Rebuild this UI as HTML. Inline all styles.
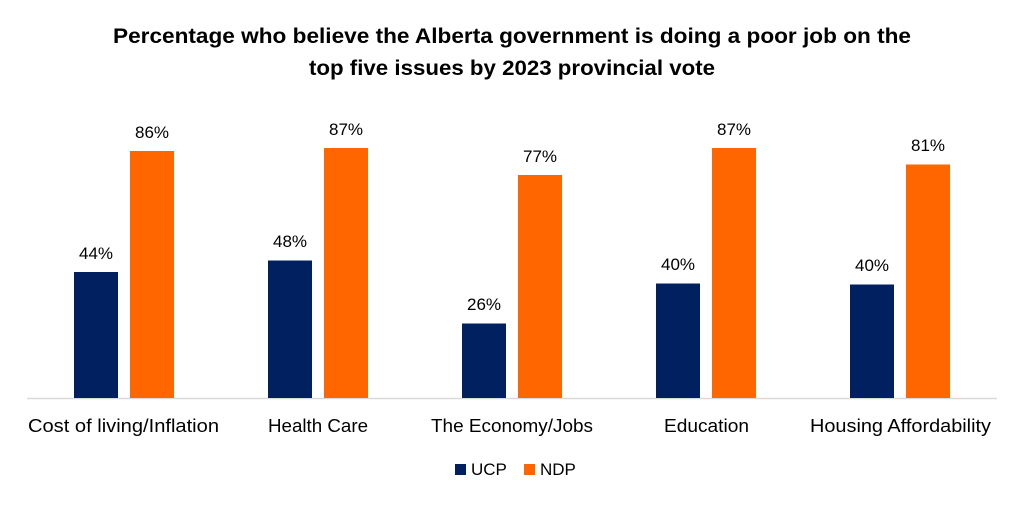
<!DOCTYPE html>
<html><head><meta charset="utf-8"><style>
html,body{margin:0;padding:0;background:#fff;}
svg{display:block;font-family:"Liberation Sans",sans-serif;}
</style></head><body>
<svg width="1024" height="508" viewBox="0 0 1024 508" xmlns="http://www.w3.org/2000/svg">
<rect width="1024" height="508" fill="#fff"/>
<text x="113" y="43" textLength="798" lengthAdjust="spacingAndGlyphs" font-size="21" font-weight="bold" fill="#000">Percentage who believe the Alberta government is doing a poor job on the</text>
<text x="309" y="75" textLength="406" lengthAdjust="spacingAndGlyphs" font-size="21" font-weight="bold" fill="#000">top five issues by 2023 provincial vote</text>
<line x1="27" y1="398.5" x2="997" y2="398.5" stroke="#d9d9d9" stroke-width="1.5"/>
<g fill="#002060">
<rect x="74" y="272" width="44" height="126"/>
<rect x="268" y="260.5" width="44" height="137.5"/>
<rect x="462" y="323.5" width="44" height="74.5"/>
<rect x="656" y="283.5" width="44" height="114.5"/>
<rect x="850" y="284.5" width="44" height="113.5"/>
</g>
<g fill="#FF6600">
<rect x="130" y="151" width="44" height="247"/>
<rect x="324" y="148" width="44" height="250"/>
<rect x="518" y="175" width="44" height="223"/>
<rect x="712" y="148" width="44" height="250"/>
<rect x="906" y="164.5" width="44" height="233.5"/>
</g>
<g font-size="17" text-anchor="middle" fill="#000">
<text x="96" y="259">44%</text>
<text x="290" y="247">48%</text>
<text x="484" y="310">26%</text>
<text x="678" y="270">40%</text>
<text x="872" y="271">40%</text>
<text x="152" y="138">86%</text>
<text x="346" y="135">87%</text>
<text x="540" y="162">77%</text>
<text x="734" y="135">87%</text>
<text x="928" y="151">81%</text>
</g>
<g font-size="18" fill="#000" lengthAdjust="spacingAndGlyphs">
<text x="28" y="432" textLength="191" lengthAdjust="spacingAndGlyphs">Cost of living/Inflation</text>
<text x="268" y="432" textLength="100" lengthAdjust="spacingAndGlyphs">Health Care</text>
<text x="431" y="432" textLength="162" lengthAdjust="spacingAndGlyphs">The Economy/Jobs</text>
<text x="664" y="432" textLength="85" lengthAdjust="spacingAndGlyphs">Education</text>
<text x="810" y="432" textLength="181" lengthAdjust="spacingAndGlyphs">Housing Affordability</text>
</g>
<rect x="455" y="464" width="11" height="11" fill="#002060"/>
<text x="471" y="475" font-size="17" fill="#000">UCP</text>
<rect x="524" y="464" width="11" height="11" fill="#FF6600"/>
<text x="540" y="475" font-size="17" fill="#000">NDP</text>
</svg>
</body></html>
